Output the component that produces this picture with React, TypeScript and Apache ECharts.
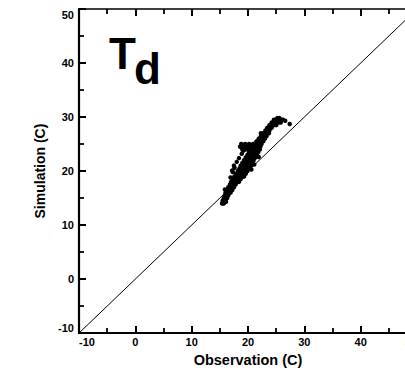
import React, { useEffect, useRef } from "react";
import * as echarts from "echarts";

// Observation (x) and Simulation (y) dew point temperatures, deg C
const obsValues: number[] = [
  15.4, 15.7,
  15.5, 15.8, 16.0,
  15.7, 16.0, 16.3,
  15.9, 16.2, 16.5,
  16.0, 16.4, 16.7, 16.9,
  16.3, 16.6, 17.0, 17.2,
  16.5, 16.9, 17.2, 17.5,
  16.8, 17.2, 17.5, 17.8,
  17.0, 17.4, 17.8, 18.1, 18.4,
  17.3, 17.7, 18.1, 18.4, 18.7,
  17.6, 18.0, 18.4, 18.7, 19.0, 19.3,
  17.9, 18.3, 18.6, 19.0, 19.3, 19.6,
  17.2, 18.2, 18.5, 18.9, 19.2, 19.6, 19.9,
  18.5, 18.8, 19.2, 19.5, 19.8, 20.2,
  17.5, 18.7, 19.1, 19.5, 19.8, 20.1, 20.5,
  19.0, 19.4, 19.7, 20.1, 20.4, 20.8,
  19.3, 19.7, 20.0, 20.4, 20.7, 21.0,
  19.6, 19.9, 20.3, 20.6, 21.0, 21.3,
  19.9, 20.2, 20.6, 20.9, 21.2, 21.6,
  20.2, 20.5, 20.9, 21.2, 21.5, 21.8,
  19.0, 19.5, 20.0, 20.5, 20.8, 21.1, 21.5, 21.8, 22.1,
  18.6, 19.2, 19.8, 20.4, 21.0, 21.4, 21.8, 22.2,
  18.8, 19.5, 20.2, 20.9, 21.5, 22.0, 22.4,
  21.5, 21.9, 22.3, 22.7,
  21.9, 22.3, 22.7, 23.0,
  22.3, 22.7, 23.0, 23.3,
  22.7, 23.0, 23.4, 23.7,
  22.3,
  23.1, 23.5, 23.8,
  23.4, 23.8, 24.2,
  23.8, 24.2, 24.6, 25.0,
  24.2, 24.6, 25.0, 25.4, 25.8,
  24.6, 25.0, 25.4, 25.8, 26.2,
  25.2, 25.6,
  27.4,
  16.9, 17.3, 17.6, 18.0, 18.4, 18.9, 19.2,
  20.6, 21.1, 21.9, 16.1, 15.9, 26.6,
];

const simValues: number[] = [
  14.0, 14.0,
  14.5, 14.5, 14.5,
  15.0, 15.0, 15.0,
  15.5, 15.5, 15.5,
  16.0, 16.0, 16.0, 16.0,
  16.5, 16.5, 16.5, 16.5,
  17.0, 17.0, 17.0, 17.0,
  17.5, 17.5, 17.5, 17.5,
  18.0, 18.0, 18.0, 18.0, 18.0,
  18.5, 18.5, 18.5, 18.5, 18.5,
  19.0, 19.0, 19.0, 19.0, 19.0, 19.0,
  19.5, 19.5, 19.5, 19.5, 19.5, 19.5,
  20.1, 20.0, 20.0, 20.0, 20.0, 20.0, 20.0,
  20.5, 20.5, 20.5, 20.5, 20.5, 20.5,
  21.0, 21.0, 21.0, 21.0, 21.0, 21.0, 21.0,
  21.5, 21.5, 21.5, 21.5, 21.5, 21.5,
  22.0, 22.0, 22.0, 22.0, 22.0, 22.0,
  22.5, 22.5, 22.5, 22.5, 22.5, 22.5,
  23.0, 23.0, 23.0, 23.0, 23.0, 23.0,
  23.5, 23.5, 23.5, 23.5, 23.5, 23.5,
  24.0, 24.0, 24.0, 24.0, 24.0, 24.0, 24.0, 24.0, 24.0,
  24.5, 24.5, 24.5, 24.5, 24.5, 24.5, 24.5, 24.5,
  25.0, 25.0, 25.0, 25.0, 25.0, 25.0, 25.0,
  25.5, 25.5, 25.5, 25.5,
  26.0, 26.0, 26.0, 26.0,
  26.5, 26.5, 26.5, 26.5,
  27.0, 27.0, 27.0, 27.0,
  27.0,
  27.5, 27.5, 27.5,
  28.0, 28.0, 28.0,
  28.5, 28.5, 28.5, 28.5,
  29.0, 29.0, 29.0, 29.0, 29.0,
  29.5, 29.5, 29.5, 29.5, 29.5,
  29.8, 29.8,
  28.7,
  18.8, 19.8, 20.6, 21.7, 22.4, 23.2, 23.8,
  20.3, 21.2, 22.6, 14.3, 16.6, 29.3,
];

const oneToOneLine: number[][] = [
  [-10, -10],
  [50, 50],
];

const axisMin = -10;
const axisMax = 50;
const axisStep = 10;

const FONT = "'Liberation Sans', Arial, Helvetica, sans-serif";

export default function App() {
  const ref = useRef<HTMLDivElement>(null);

  useEffect(() => {
    if (!ref.current) return;
    const chart = echarts.init(ref.current, undefined, { renderer: "svg" });
    const points = obsValues.map((x, i) => [x, simValues[i]]);

    const tickStyle = {
      axisTick: { show: true, inside: true, length: 7, lineStyle: { color: "#000", width: 2 } },
      minorTick: { show: true, splitNumber: 2, length: 5, lineStyle: { color: "#000", width: 1.8 } },
    };

    const baseAxis = {
      type: "value" as const,
      min: axisMin,
      max: axisMax,
      interval: axisStep,
      splitLine: { show: false },
      minorSplitLine: { show: false },
      ...tickStyle,
    };

    chart.setOption({
      animation: false,
      backgroundColor: "#fff",
      grid: { left: 79, top: 9, right: 23, bottom: 33 },
      xAxis: [
        {
          ...baseAxis,
          position: "bottom",
          axisLine: { show: true, onZero: false, lineStyle: { color: "#000", width: 2.2 } },
          axisLabel: {
            color: "#000",
            fontFamily: FONT,
            fontWeight: "bold",
            fontSize: 11,
            margin: 3,
            alignMinLabel: "left",
            alignMaxLabel: "right",
          },
          name: "Observation (C)",
          nameLocation: "middle",
          nameGap: 14,
          nameTextStyle: { color: "#000", fontFamily: FONT, fontWeight: "bold", fontSize: 14.5 },
        },
        {
          ...baseAxis,
          position: "top",
          axisLine: { show: true, onZero: false, lineStyle: { color: "#000", width: 1.5 } },
          axisLabel: { show: false },
        },
      ],
      yAxis: [
        {
          ...baseAxis,
          position: "left",
          axisLine: { show: true, onZero: false, lineStyle: { color: "#000", width: 2.2 } },
          axisLabel: {
            color: "#000",
            fontFamily: FONT,
            fontWeight: "bold",
            fontSize: 11,
            margin: 5,
            verticalAlignMinLabel: "bottom",
            verticalAlignMaxLabel: "top",
          },
          name: "Simulation (C)",
          nameLocation: "middle",
          nameGap: 31,
          nameTextStyle: { color: "#000", fontFamily: FONT, fontWeight: "bold", fontSize: 14 },
        },
        {
          ...baseAxis,
          position: "right",
          axisLine: { show: true, onZero: false, lineStyle: { color: "#000", width: 1.5 } },
          axisLabel: { show: false },
        },
      ],
      graphic: [
        {
          type: "text",
          left: 109,
          top: 31,
          style: { text: "T", fill: "#000", font: `bold 44px ${FONT}` },
        },
        {
          type: "text",
          left: 134,
          top: 46,
          style: { text: "d", fill: "#000", font: `bold 44px ${FONT}` },
        },
      ],
      series: [
        {
          type: "line",
          data: oneToOneLine,
          showSymbol: false,
          symbol: "none",
          lineStyle: { color: "#000", width: 1 },
          silent: true,
        },
        {
          type: "scatter",
          data: points,
          symbol: "circle",
          symbolSize: 4.5,
          itemStyle: { color: "#000", opacity: 1 },
        },
      ],
    });

    return () => chart.dispose();
  }, []);

  return (
    <div style={{ position: "fixed", left: 0, top: 0, width: 405, height: 372, overflow: "hidden", background: "#fff" }}>
      <div ref={ref} style={{ width: 440, height: 372 }} />
    </div>
  );
}
